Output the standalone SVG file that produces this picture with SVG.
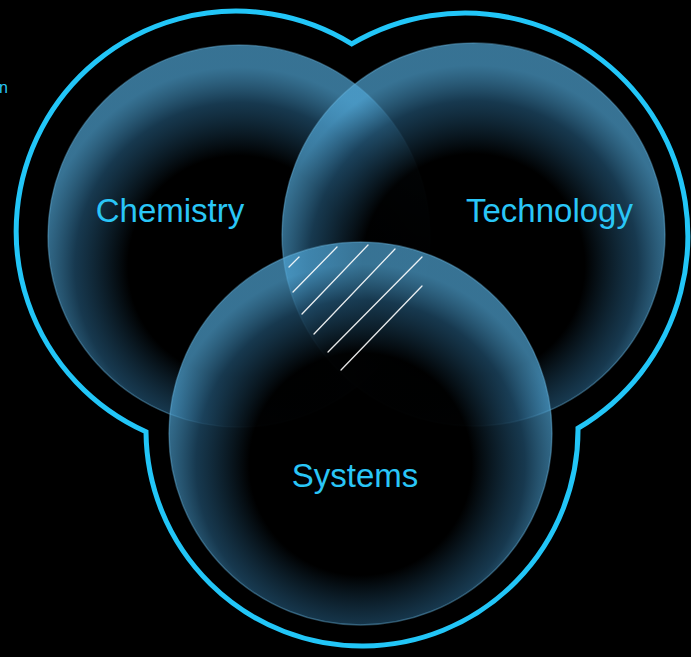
<svg xmlns="http://www.w3.org/2000/svg" width="691" height="657" viewBox="0 0 691 657">
  <style>
    .set { stroke: #6ab4dc; stroke-opacity: 0.4; stroke-width: 1.5; }
    .label { font-family: "Liberation Sans", Arial, sans-serif; font-size: 33px; fill: #2ac6f7; text-anchor: middle; }
    .hatch { stroke: #ffffff; stroke-opacity: 0.9; stroke-width: 1.3; stroke-linecap: round; }
  </style>
  <defs>
    <radialGradient id="glow" cx="0.5" cy="0.58" r="0.58">
      <stop offset="0" stop-color="#000000" stop-opacity="1"/>
      <stop offset="0.5" stop-color="#000000" stop-opacity="0.97"/>
      <stop offset="0.74" stop-color="#1c4560" stop-opacity="0.82"/>
      <stop offset="0.9" stop-color="#50a6d6" stop-opacity="0.69"/>
      <stop offset="1" stop-color="#50a6d6" stop-opacity="0.69"/>
    </radialGradient>
  </defs>
  <rect width="691" height="657" fill="#000000"/>
  <text x="-1" y="93" style="font-family:'Liberation Sans', Arial, sans-serif; font-size:16px; fill:#2ac6f7">n</text>
  <g id="boundary">
    <path d="M351.7 43.9 A223 223 0 1 1 578 428.25 A216 216 0 0 1 146 431.8 A220 220 0 1 1 351.7 43.9 Z" fill="none" stroke="#22c6f8" stroke-width="5" stroke-linejoin="miter"/>
  </g>
  <g id="chemistry">
    <circle class="set" cx="239" cy="236" r="191" fill="url(#glow)"/>
    <text class="label" x="170" y="222">Chemistry</text>
  </g>
  <g id="technology">
    <circle class="set" cx="473.5" cy="234.5" r="191.5" fill="url(#glow)"/>
    <text class="label" x="549.5" y="222">Technology</text>
  </g>
  <g id="systems">
    <circle class="set" cx="360.5" cy="433.5" r="191.5" fill="url(#glow)"/>
    <text class="label" x="355" y="487">Systems</text>
  </g>
  <g id="intersection">
    <line class="hatch" x1="289" y1="267" x2="299" y2="257"/>
    <line class="hatch" x1="293" y1="292" x2="337" y2="247"/>
    <line class="hatch" x1="302" y1="314" x2="368" y2="245"/>
    <line class="hatch" x1="314" y1="334" x2="395" y2="249"/>
    <line class="hatch" x1="328" y1="352" x2="422" y2="257"/>
    <line class="hatch" x1="341" y1="370" x2="422" y2="286"/>
  </g>
</svg>
